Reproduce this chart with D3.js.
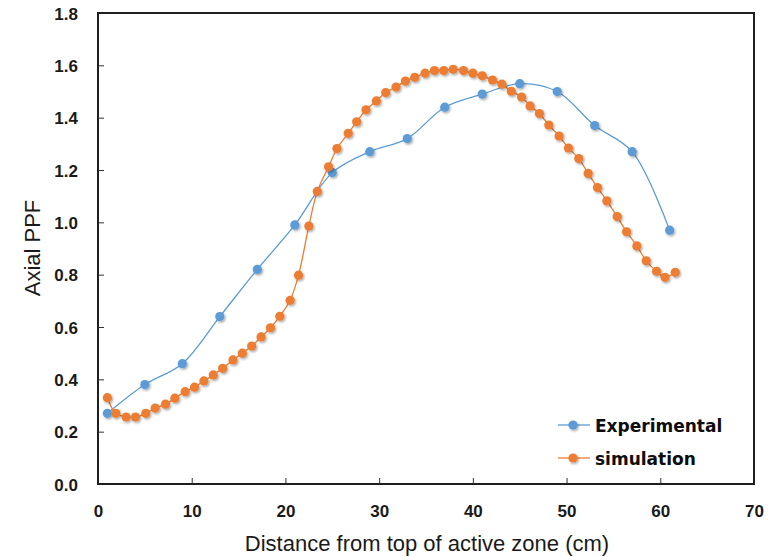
<!DOCTYPE html>
<html>
<head>
<meta charset="utf-8">
<script src="https://cdn.jsdelivr.net/npm/d3@7"></script>
<style>
  body { margin: 0; background: #fff; }
  .tick-label { font-family: "Liberation Sans", Arial, sans-serif; font-weight: bold; font-size: 17px; fill: #1a1a1a; }
  .axis-title { font-family: "Liberation Sans", Arial, sans-serif; font-size: 22px; fill: #1a1a1a; }
  .legend-text { font-family: "DejaVu Sans", sans-serif; font-weight: bold; font-size: 17px; fill: #0d0d0d; }
</style>
</head>
<body>
<div id="chart"></div>
<script>
// Experimental measurements
var expX = [1, 5, 9, 13, 17, 21, 25, 29, 33, 37, 41, 45, 49, 53, 57, 61];
var expY = [0.27, 0.38, 0.46, 0.64, 0.82, 0.99, 1.19, 1.27, 1.32, 1.44, 1.49, 1.53, 1.50, 1.37, 1.27, 0.97];

// Simulation results
var simX = [1.0, 1.9, 3.0, 4.0, 5.1, 6.1, 7.2, 8.2, 9.3, 10.3, 11.3, 12.3, 13.3, 14.4, 15.4,
            16.4, 17.4, 18.4, 19.4, 20.5, 21.4, 22.5, 23.4, 24.6, 25.5, 26.7, 27.6, 28.6, 29.7, 30.7,
            31.8, 32.8, 33.8, 34.9, 35.9, 36.9, 37.9, 39.0, 40.0, 41.0, 42.1, 43.1, 44.1, 45.2, 46.1,
            47.1, 48.1, 49.2, 50.2, 51.3, 52.3, 53.3, 54.3, 55.4, 56.4, 57.5, 58.5, 59.6, 60.5, 61.6];
var simY = [0.33, 0.27, 0.256, 0.256, 0.27, 0.29, 0.305, 0.328, 0.353, 0.37, 0.394, 0.417, 0.442, 0.474, 0.50,
            0.527, 0.562, 0.597, 0.641, 0.702, 0.798, 0.986, 1.118, 1.212, 1.282, 1.34, 1.384, 1.43, 1.464, 1.496,
            1.517, 1.54, 1.554, 1.57, 1.58, 1.58, 1.585, 1.58, 1.57, 1.56, 1.544, 1.528, 1.501, 1.479, 1.445,
            1.416, 1.372, 1.33, 1.284, 1.244, 1.187, 1.133, 1.082, 1.022, 0.964, 0.91, 0.853, 0.813, 0.79, 0.809];

var xTicks = [0, 10, 20, 30, 40, 50, 60, 70];
var yTicks = [0, 0.2, 0.4, 0.6, 0.8, 1.0, 1.2, 1.4, 1.6, 1.8];

var seriesNames = ["Experimental", "simulation"];
var seriesColors = ["#5b9bd5", "#ed7d31"];

var margin = {top: 13, right: 22, bottom: 73, left: 98},
    width = 776 - margin.left - margin.right,
    height = 557 - margin.top - margin.bottom;

var svg = d3.select("#chart").append("svg")
    .attr("width", 776)
    .attr("height", 557);

var defs = svg.append("defs");
var shadow = defs.append("filter")
    .attr("id", "dotShadow")
    .attr("x", "-50%").attr("y", "-50%")
    .attr("width", "200%").attr("height", "200%");
shadow.append("feDropShadow")
    .attr("dx", 1.2).attr("dy", 1.5)
    .attr("stdDeviation", 1.2)
    .attr("flood-color", "#000")
    .attr("flood-opacity", 0.35);

var g = svg.append("g")
    .attr("transform", "translate(" + margin.left + "," + margin.top + ")");

var xScale = d3.scaleLinear().domain([0, 70]).range([0, width]);
var yScale = d3.scaleLinear().domain([0, 1.8]).range([height, 0]);

/* Axes, ticks inside the plot */
var xAxis = d3.axisBottom(xScale).tickValues(xTicks).tickSize(-6).tickFormat(d3.format("d"));
var yAxis = d3.axisLeft(yScale).tickValues(yTicks).tickSize(-6).tickFormat(d3.format(".1f"));

g.append("g")
    .attr("transform", "translate(0," + height + ")")
    .call(xAxis)
    .call(a => a.select(".domain").remove())
    .call(a => a.selectAll("line").attr("stroke", "#333").attr("stroke-width", 1))
    .call(a => a.selectAll("text").attr("class", "tick-label").attr("dy", null).attr("y", 33));

g.append("g")
    .call(yAxis)
    .call(a => a.select(".domain").remove())
    .call(a => a.selectAll("line").attr("stroke", "#333").attr("stroke-width", 1))
    .call(a => a.selectAll("text").attr("class", "tick-label").attr("x", -20).attr("dy", "0.36em"));

// plot frame
g.append("rect")
    .attr("x", 0).attr("y", 0)
    .attr("width", width).attr("height", height)
    .attr("fill", "none")
    .attr("stroke", "#1f1f1f")
    .attr("stroke-width", 2);

/* Axis titles */
svg.append("text")
    .attr("class", "axis-title")
    .attr("x", 427)
    .attr("y", 551)
    .attr("text-anchor", "middle")
    .text("Distance from top of active zone (cm)");

svg.append("text")
    .attr("class", "axis-title")
    .attr("transform", "translate(40,248) rotate(-90)")
    .attr("text-anchor", "middle")
    .text("Axial PPF");

/* Series */
var data = [
    {name: seriesNames[0], values: expX.map((x, i) => ({x: x, y: expY[i]}))},
    {name: seriesNames[1], values: simX.map((x, i) => ({x: x, y: simY[i]}))}
];

var line = d3.line()
    .x(d => xScale(d.x))
    .y(d => yScale(d.y))
    .curve(d3.curveCatmullRom);

var series = g.selectAll(".series")
    .data(data).enter()
    .append("g")
    .attr("class", "series");

series.append("path")
    .attr("d", d => line(d.values))
    .attr("fill", "none")
    .attr("stroke", (d, i) => seriesColors[i])
    .attr("stroke-width", 1.3);

series.selectAll("circle")
    .data(d => d.values).enter()
    .append("circle")
    .attr("cx", d => xScale(d.x))
    .attr("cy", d => yScale(d.y))
    .attr("r", 4.6)
    .attr("fill", function() { return seriesColors[data.indexOf(d3.select(this.parentNode).datum())]; })
    .attr("filter", "url(#dotShadow)");

/* Legend */
var legend = svg.selectAll(".legend")
    .data(seriesNames).enter()
    .append("g")
    .attr("class", "legend")
    .attr("transform", (d, i) => "translate(558," + (425 + i * 33) + ")");

legend.append("line")
    .attr("x1", 0).attr("x2", 32)
    .attr("stroke", (d, i) => seriesColors[i])
    .attr("stroke-width", 1.3);

legend.append("circle")
    .attr("cx", 15).attr("r", 4.6)
    .attr("fill", (d, i) => seriesColors[i])
    .attr("filter", "url(#dotShadow)");

legend.append("text")
    .attr("class", "legend-text")
    .attr("x", 37)
    .attr("y", 7)
    .text(d => d);
</script>
</body>
</html>
